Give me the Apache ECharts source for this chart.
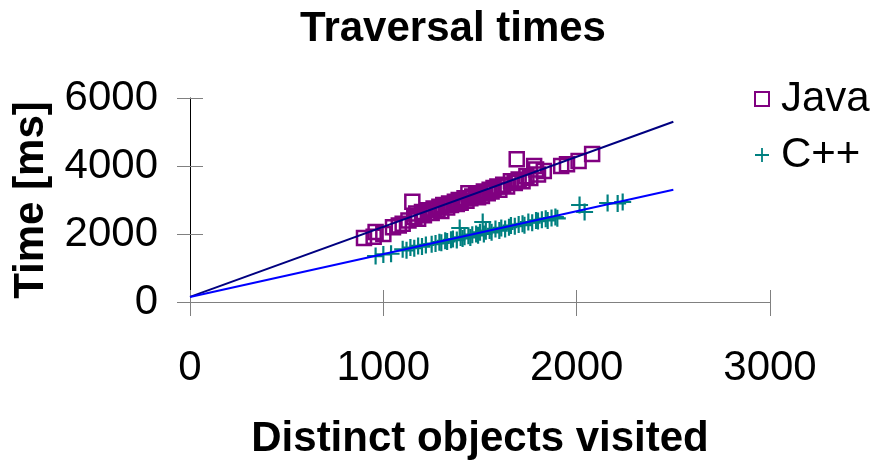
<!DOCTYPE html>
<html>
<head>
<meta charset="utf-8">
<script src="https://cdn.jsdelivr.net/npm/echarts@6/dist/echarts.min.js"></script>
<style>
  html, body { margin: 0; padding: 0; background: #fff; }
  #main { width: 878px; height: 463px; }
</style>
</head>
<body>
<div id="main"></div>
<script>
// Java measurements [objects visited, ms]
const javaPoints = [
  [900,1880],[950,1920],[960,2060],[1000,2000],[1050,2200],[1080,2250],[1100,2300],[1130,2400],
  [1150,2950],[1160,2500],[1170,2600],[1180,2450],[1200,2650],[1210,2550],[1230,2700],[1250,2620],
  [1260,2750],[1280,2720],[1290,2800],[1300,2680],[1310,2850],[1330,2780],[1340,2900],[1350,2850],
  [1370,2950],[1380,2880],[1390,3000],[1400,2920],[1420,3050],[1430,2980],[1440,3200],[1450,3050],
  [1460,3100],[1480,3150],[1490,3080],[1500,3200],[1510,3120],[1520,3250],[1540,3200],[1550,3300],
  [1560,3250],[1570,3350],[1590,3400],[1600,3300],[1620,3450],[1640,3400],[1660,3550],[1680,3500],
  [1690,4200],[1700,3600],[1720,3550],[1740,3700],[1760,3650],[1780,4000],[1790,3900],[1800,3750],
  [1830,3850],[1920,4000],[1950,4050],[2010,4150],[2080,4350]
];
// C++ measurements [objects visited, ms]
const cppPoints = [
  [960,1350],[1000,1400],[1040,1420],[1100,1550],[1120,1520],[1140,1600],[1160,1580],[1180,1650],
  [1200,1630],[1220,1680],[1250,1700],[1270,1720],[1290,1760],[1300,1740],[1320,1800],[1330,1780],
  [1350,1830],[1360,1850],[1380,1820],[1395,2176],[1400,1900],[1410,1870],[1420,1920],[1440,1950],
  [1450,1900],[1460,1980],[1480,2000],[1490,1960],[1500,2050],[1514,2353],[1520,2000],[1530,2080],
  [1550,2100],[1560,2050],[1580,2150],[1600,2100],[1610,2180],[1630,2150],[1650,2200],[1660,2250],
  [1680,2230],[1700,2280],[1720,2300],[1730,2260],[1750,2350],[1770,2330],[1790,2400],[1800,2380],
  [1820,2420],[1840,2450],[1850,2400],[1870,2470],[1890,2500],[1900,2460],[2015,2853],[2041,2647],
  [2160,2912],[2212,2900],[2238,2941]
];
// fitted trend lines (start, end)
const javaTrend = [[0,150],[2500,5300]];
const cppTrend = [[0,150],[2500,3300]];
const xTicks = [0, 3000, 1000];   // min, max, interval
const yTicks = [0, 6000, 2000];

const FONT = '"Liberation Sans", Arial, sans-serif';
const chart = echarts.init(document.getElementById('main'));
const plusPath = 'path://M6.1,0H7.9V6.1H14V7.9H7.9V14H6.1V7.9H0V6.1H6.1Z';
const plain = v => String(v);

chart.setOption({
  animation: false,
  title: {
    text: 'Traversal times',
    left: 448, top: 3, textAlign: 'center',
    textStyle: { fontFamily: FONT, fontSize: 42, fontWeight: 'bold', color: '#000' }
  },
  legend: {
    orient: 'vertical', left: 749, top: 73,
    itemWidth: 14, itemHeight: 14, itemGap: 14,
    data: ['Java', 'C++'],
    textStyle: { fontFamily: FONT, fontSize: 42, color: '#000', padding: [0, 0, 0, 7] }
  },
  grid: { left: 190, right: 108, top: 98, bottom: 161, outerBoundsMode: 'none', containLabel: false },
  xAxis: [{
    type: 'value', min: xTicks[0], max: xTicks[1], interval: xTicks[2],
    name: 'Distinct objects visited', nameLocation: 'middle', nameGap: 116,
    nameTextStyle: { fontFamily: FONT, fontSize: 42, fontWeight: 'bold', color: '#000' },
    axisLine: { onZero: false, lineStyle: { color: '#808080', width: 1 } },
    axisTick: { show: true, length: 14, lineStyle: { color: '#808080' } },
    axisLabel: { margin: 45, fontFamily: FONT, fontSize: 42, color: '#000', formatter: plain },
    splitLine: { show: false }
  }, {
    type: 'value', min: xTicks[0], max: xTicks[1], interval: xTicks[2], position: 'bottom',
    axisLine: { show: false },
    axisTick: { show: true, inside: true, length: 12, lineStyle: { color: '#808080' } },
    axisLabel: { show: false }, splitLine: { show: false }
  }],
  yAxis: [{
    type: 'value', min: yTicks[0], max: yTicks[1], interval: yTicks[2],
    name: 'Time [ms]', nameLocation: 'middle', nameGap: 138, nameRotate: 90,
    nameTextStyle: { fontFamily: FONT, fontSize: 42, fontWeight: 'bold', color: '#000' },
    axisLine: { show: true, onZero: false, lineStyle: { color: '#000', width: 1 } },
    axisTick: { show: true, length: 13, lineStyle: { color: '#808080' } },
    axisLabel: { margin: 32, fontFamily: FONT, fontSize: 42, color: '#000', formatter: plain },
    splitLine: { show: false }
  }, {
    type: 'value', min: yTicks[0], max: yTicks[1], interval: yTicks[2], position: 'left',
    axisLine: { show: false },
    axisTick: { show: true, inside: true, length: 13, lineStyle: { color: '#808080' } },
    axisLabel: { show: false }, splitLine: { show: false }
  }],
  series: [
    {
      name: 'Java', type: 'scatter', data: javaPoints,
      symbol: 'rect', symbolSize: 14,
      itemStyle: { color: 'rgba(0,0,0,0)', borderColor: '#800080', borderWidth: 2.5, opacity: 1 },
      z: 3
    },
    {
      name: 'C++', type: 'scatter', data: cppPoints,
      symbol: plusPath, symbolSize: 17,
      itemStyle: { color: '#008080', opacity: 1 },
      z: 3
    },
    {
      name: 'Java trend', type: 'line', data: javaTrend, showSymbol: false, symbol: 'none',
      lineStyle: { color: '#000080', width: 2 }, z: 4
    },
    {
      name: 'C++ trend', type: 'line', data: cppTrend, showSymbol: false, symbol: 'none',
      lineStyle: { color: '#0000ff', width: 2 }, z: 4
    }
  ]
});
</script>
</body>
</html>
